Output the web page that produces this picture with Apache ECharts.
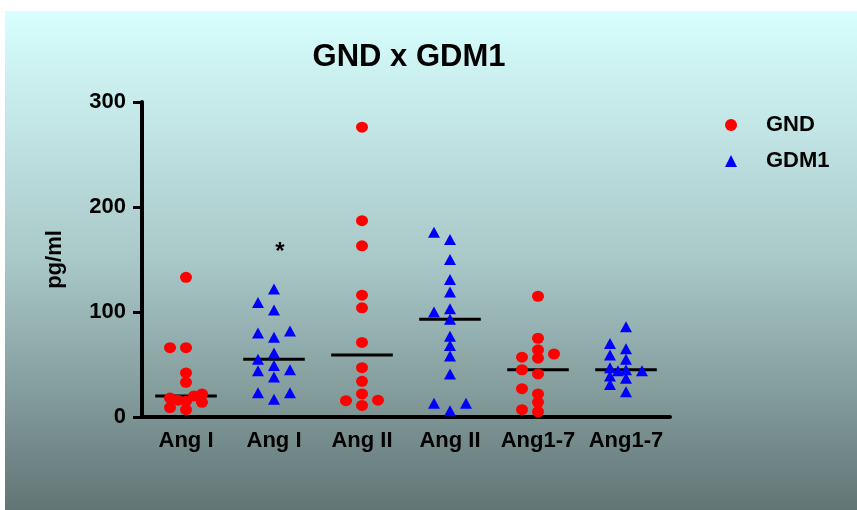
<!DOCTYPE html>
<html>
<head>
<meta charset="utf-8">
<script src="https://cdn.jsdelivr.net/npm/echarts@6/dist/echarts.min.js"></script>
<style>
  html, body { margin: 0; padding: 0; background: #ffffff; }
  #chart { width: 857px; height: 510px; }
</style>
</head>
<body>
<div id="chart"></div>
<script>
// ---- data -------------------------------------------------------------
const groupLabels = ['Ang I', 'Ang I', 'Ang II', 'Ang II', 'Ang1-7', 'Ang1-7'];
const yTicks = [0, 100, 200, 300];

// GND (red circles): groups 0, 2, 4   |   GDM1 (blue triangles): groups 1, 3, 5
const gndAngI   = [133, 66, 66, 42, 33, 20, 22, 14, 16, 15, 18, 9, 7];
const gdmAngI   = [122, 109, 102, 82, 80, 76, 61, 55, 49, 44, 45, 38, 23, 23, 17];
const gndAngII  = [276, 187, 163, 116, 104, 71, 47, 34, 22, 16, 15.5, 11];
const gdmAngII  = [176, 169, 150, 131, 119, 103, 100, 93, 77, 68, 58, 41, 13, 13, 6];
const gndAng17  = [115, 75, 64, 60, 57, 56, 45, 41, 27, 22, 14, 7, 5];
const gdmAng17  = [86, 70, 65, 59, 55, 47, 45, 44, 44, 37, 39, 31, 24];

// significance mark drawn above the GDM1 Ang I column
const starGroup = 1;
const starValue = 157;

// ---- layout ----------------------------------------------------------
const W = 857, H = 510;
const grid = { left: 142, right: 187, top: 102, bottom: 93 };
const yMax = 300;
const pxPerCat = (W - grid.left - grid.right) / groupLabels.length;
const pxPerUnit = (H - grid.top - grid.bottom) / yMax;

// Simple beeswarm: a point that would overlap an earlier one is moved to
// the first free side slot (full lanes first, then half lanes).
const SLOTS = [0, -16, 16, -8, 8, -24, 24, -32, 32, -40, 40];
const MIN_GAP = 8;
function swarm(values, groupIndex) {
  const order = values.map((v, i) => i).sort((a, b) => values[a] - values[b]);
  const placed = [];
  const out = new Array(values.length);
  order.forEach(i => {
    const py = values[i] * pxPerUnit;
    let dx = 0;
    for (const cand of SLOTS) {
      if (placed.every(p => Math.hypot(p.x - cand, p.y - py) >= MIN_GAP)) { dx = cand; break; }
    }
    placed.push({ x: dx, y: py });
    out[i] = [groupIndex + dx / pxPerCat, values[i]];
  });
  return out;
}

function median(arr) {
  const s = arr.slice().sort((a, b) => a - b);
  const m = Math.floor(s.length / 2);
  return s.length % 2 ? s[m] : (s[m - 1] + s[m]) / 2;
}

const gndGroups = [[gndAngI, 0], [gndAngII, 2], [gndAng17, 4]];
const gdmGroups = [[gdmAngI, 1], [gdmAngII, 3], [gdmAng17, 5]];

const gndPoints = gndGroups.flatMap(([v, g]) => swarm(v, g));
const gdmPoints = gdmGroups.flatMap(([v, g]) => swarm(v, g));
const medians = gndGroups.concat(gdmGroups).map(([v, g]) => [g, median(v)]);

const FONT = '"Liberation Sans", Arial, sans-serif';
const MEDIAN_HALF = 0.35;

const chart = echarts.init(document.getElementById('chart'), null, { renderer: 'canvas' });

chart.setOption({
  animation: false,
  backgroundColor: '#ffffff',
  textStyle: { fontFamily: FONT },
  graphic: {
    elements: [{
      type: 'rect', z: -100, silent: true,
      shape: { x: 5, y: 11, width: W - 5, height: H - 11 },
      style: {
        fill: new echarts.graphic.LinearGradient(0, 0, 0, 1, [
          { offset: 0, color: '#d8fefe' },
          { offset: 0.5, color: '#a9c8c8' },
          { offset: 1, color: '#627575' }
        ])
      }
    }]
  },
  title: {
    text: 'GND x GDM1',
    left: 404, top: 37, textAlign: 'center',
    textStyle: { fontFamily: FONT, fontSize: 31, fontWeight: 'bold', color: '#000' }
  },
  legend: {
    orient: 'vertical',
    left: 720, top: 108,
    itemWidth: 12, itemHeight: 12, itemGap: 12,
    data: [{ name: 'GND', icon: 'circle' }, { name: 'GDM1', icon: 'triangle' }],
    textStyle: {
      fontFamily: FONT, fontSize: 22, fontWeight: 'bold', color: '#000',
      lineHeight: 24, padding: [0, 0, 0, 24]
    }
  },
  grid: Object.assign({ containLabel: false }, grid),
  xAxis: [{
    type: 'category',
    data: groupLabels,
    boundaryGap: true,
    axisLine: { lineStyle: { color: '#000', width: 4 } },
    axisTick: { alignWithLabel: true, length: 10, interval: 0, lineStyle: { color: '#000', width: 3 } },
    axisLabel: { interval: 0, margin: 13, color: '#000', fontFamily: FONT, fontSize: 22, fontWeight: 'bold' },
    splitLine: { show: false }
  }, {
    type: 'value', show: false, min: -0.5, max: groupLabels.length - 0.5
  }],
  yAxis: {
    type: 'value',
    min: yTicks[0], max: yTicks[yTicks.length - 1], interval: yTicks[1] - yTicks[0],
    name: 'pg/ml', nameLocation: 'middle', nameGap: 76,
    nameTextStyle: { fontFamily: FONT, fontSize: 22, fontWeight: 'bold', color: '#000' },
    axisLine: { show: true, onZero: false, lineStyle: { color: '#000', width: 4 } },
    axisTick: { show: true, length: 9, lineStyle: { color: '#000', width: 3 } },
    axisLabel: { margin: 16, color: '#000', fontFamily: FONT, fontSize: 22, fontWeight: 'bold' },
    splitLine: { show: false }
  },
  series: [{
    name: 'medians',
    type: 'custom',
    xAxisIndex: 1, yAxisIndex: 0,
    z: 1, silent: true,
    data: medians,
    renderItem(params, api) {
      const c = api.coord([api.value(0), api.value(1)]);
      const half = api.size([MEDIAN_HALF, 0])[0];
      return {
        type: 'line',
        shape: { x1: c[0] - half, y1: c[1], x2: c[0] + half, y2: c[1] },
        style: { stroke: '#000', lineWidth: 3 }
      };
    }
  }, {
    name: 'GND',
    type: 'scatter',
    xAxisIndex: 1, yAxisIndex: 0,
    z: 3,
    symbol: 'circle', symbolSize: [12, 11],
    itemStyle: { color: '#ff0000', opacity: 1 },
    data: gndPoints
  }, {
    name: 'GDM1',
    type: 'scatter',
    xAxisIndex: 1, yAxisIndex: 0,
    z: 3,
    symbol: 'triangle', symbolSize: [12, 11],
    itemStyle: { color: '#0000ff', opacity: 1 },
    data: gdmPoints,
    markPoint: {
      symbol: 'circle', symbolSize: 0, silent: true,
      label: {
        show: true, formatter: '*', position: 'inside', offset: [6, 0],
        color: '#000', fontFamily: FONT, fontSize: 24, fontWeight: 'bold'
      },
      data: [{ coord: [starGroup, starValue] }]
    }
  }]
});
</script>
</body>
</html>
